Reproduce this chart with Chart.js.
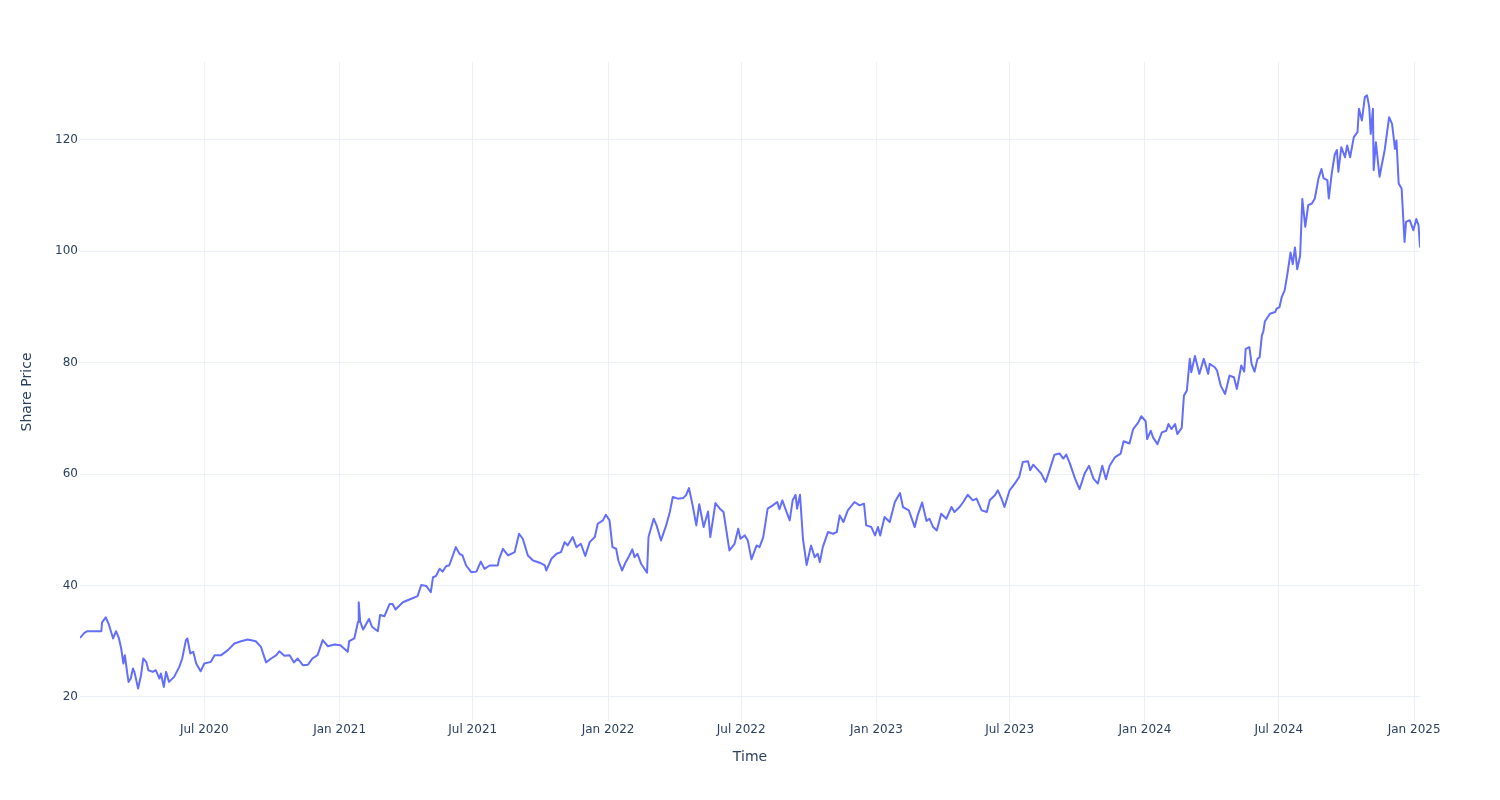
<!DOCTYPE html>
<html>
<head>
<meta charset="utf-8">
<script src="https://cdn.jsdelivr.net/npm/chart.js@4.4.1/dist/chart.umd.min.js"></script>
<style>
  html, body { margin: 0; padding: 0; background: #fff; }
</style>
</head>
<body>
<canvas id="chart" width="1500" height="800"></canvas>
<script>
// closing dates and share prices
const dates = [
  "2020-01-14","2020-01-20","2020-01-24","2020-02-02","2020-02-12","2020-02-13","2020-02-18","2020-02-22","2020-02-28","2020-03-03",
  "2020-03-07","2020-03-10","2020-03-13","2020-03-15","2020-03-18","2020-03-20","2020-03-23","2020-03-26","2020-03-28","2020-04-02",
  "2020-04-06","2020-04-09","2020-04-13","2020-04-16","2020-04-22","2020-04-26","2020-05-01","2020-05-03","2020-05-07","2020-05-10",
  "2020-05-14","2020-05-21","2020-05-28","2020-06-01","2020-06-06","2020-06-08","2020-06-12","2020-06-16","2020-06-20","2020-06-26",
  "2020-07-01","2020-07-10","2020-07-15","2020-07-24","2020-08-02","2020-08-11","2020-08-20","2020-08-29","2020-09-09","2020-09-16",
  "2020-09-23","2020-09-30","2020-10-07","2020-10-11","2020-10-18","2020-10-25","2020-10-31","2020-11-05","2020-11-12","2020-11-19",
  "2020-11-25","2020-12-02","2020-12-09","2020-12-16","2020-12-25","2021-01-02","2021-01-07","2021-01-12","2021-01-14","2021-01-21",
  "2021-01-26","2021-01-27","2021-01-29","2021-02-02","2021-02-10","2021-02-14","2021-02-22","2021-02-25","2021-03-03","2021-03-10",
  "2021-03-14","2021-03-18","2021-03-28","2021-04-06","2021-04-17","2021-04-22","2021-04-29","2021-05-05","2021-05-08","2021-05-12",
  "2021-05-17","2021-05-21","2021-05-26","2021-05-30","2021-06-04","2021-06-08","2021-06-13","2021-06-17","2021-06-22","2021-06-29",
  "2021-07-06","2021-07-12","2021-07-17","2021-07-24","2021-08-04","2021-08-06","2021-08-11","2021-08-18","2021-08-27","2021-09-02",
  "2021-09-07","2021-09-14","2021-09-21","2021-09-30","2021-10-07","2021-10-09","2021-10-16","2021-10-23","2021-10-29","2021-11-03",
  "2021-11-07","2021-11-14","2021-11-19","2021-11-25","2021-12-01","2021-12-07","2021-12-14","2021-12-18","2021-12-25","2021-12-29",
  "2022-01-03","2022-01-07","2022-01-12","2022-01-15","2022-01-20","2022-01-25","2022-01-30","2022-02-03","2022-02-06","2022-02-10",
  "2022-02-15","2022-02-23","2022-02-25","2022-03-04","2022-03-08","2022-03-14","2022-03-21","2022-03-26","2022-03-30","2022-04-06",
  "2022-04-13","2022-04-17","2022-04-21","2022-04-26","2022-05-01","2022-05-05","2022-05-11","2022-05-17","2022-05-20","2022-05-27",
  "2022-06-02","2022-06-07","2022-06-15","2022-06-22","2022-06-27","2022-06-30","2022-07-06","2022-07-10","2022-07-15","2022-07-22",
  "2022-07-26","2022-07-31","2022-08-06","2022-08-13","2022-08-19","2022-08-22","2022-08-26","2022-08-30","2022-09-05","2022-09-09",
  "2022-09-13","2022-09-15","2022-09-19","2022-09-23","2022-09-28","2022-10-04","2022-10-09","2022-10-13","2022-10-16","2022-10-20",
  "2022-10-27","2022-11-03","2022-11-08","2022-11-12","2022-11-17","2022-11-23","2022-12-02","2022-12-09","2022-12-15","2022-12-18",
  "2022-12-25","2022-12-30","2023-01-03","2023-01-06","2023-01-12","2023-01-19","2023-01-26","2023-02-02","2023-02-06","2023-02-14",
  "2023-02-22","2023-02-26","2023-03-04","2023-03-10","2023-03-14","2023-03-19","2023-03-24","2023-03-30","2023-04-06","2023-04-13",
  "2023-04-17","2023-04-24","2023-04-29","2023-05-05","2023-05-12","2023-05-17","2023-05-24","2023-05-31","2023-06-04","2023-06-11",
  "2023-06-15","2023-06-20","2023-06-24","2023-07-01","2023-07-08","2023-07-14","2023-07-19","2023-07-26","2023-07-29","2023-08-02",
  "2023-08-07","2023-08-13","2023-08-19","2023-08-25","2023-08-31","2023-09-07","2023-09-12","2023-09-16","2023-09-21","2023-09-28",
  "2023-10-04","2023-10-11","2023-10-17","2023-10-23","2023-10-29","2023-11-04","2023-11-09","2023-11-14","2023-11-21","2023-11-29",
  "2023-12-03","2023-12-11","2023-12-16","2023-12-23","2023-12-27","2024-01-02","2024-01-04","2024-01-09","2024-01-12","2024-01-18",
  "2024-01-24","2024-01-30","2024-02-02","2024-02-06","2024-02-11","2024-02-14","2024-02-20","2024-02-23","2024-02-27","2024-03-02",
  "2024-03-04","2024-03-09","2024-03-15","2024-03-21","2024-03-27","2024-03-29","2024-04-05","2024-04-08","2024-04-13","2024-04-19",
  "2024-04-25","2024-05-01","2024-05-05","2024-05-11","2024-05-15","2024-05-17","2024-05-22","2024-05-25","2024-05-29","2024-06-02",
  "2024-06-05","2024-06-08","2024-06-10","2024-06-12","2024-06-19","2024-06-26","2024-06-28","2024-07-02","2024-07-05","2024-07-09",
  "2024-07-13","2024-07-17","2024-07-20","2024-07-23","2024-07-26","2024-07-30","2024-08-02","2024-08-06","2024-08-10","2024-08-15",
  "2024-08-19","2024-08-24","2024-08-28","2024-08-31","2024-09-05","2024-09-07","2024-09-11","2024-09-15","2024-09-18","2024-09-20",
  "2024-09-24","2024-09-29","2024-10-02","2024-10-06","2024-10-11","2024-10-16","2024-10-18","2024-10-22","2024-10-26","2024-10-29",
  "2024-11-01","2024-11-03","2024-11-06","2024-11-07","2024-11-10","2024-11-15","2024-11-18","2024-11-22","2024-11-28","2024-12-02",
  "2024-12-06","2024-12-08","2024-12-11","2024-12-15","2024-12-19","2024-12-21","2024-12-26","2024-12-31","2025-01-04","2025-01-07",
  "2025-01-09"
];
const prices = [
  30.6,31.5,31.8,31.8,31.8,33.4,34.3,33.1,30.5,31.8,
  30.5,28.7,26.0,27.5,24.5,22.7,23.3,25.1,24.5,21.5,
  23.9,26.9,26.3,24.8,24.5,24.8,23.3,24.2,21.8,24.5,
  22.7,23.6,25.4,26.9,30.2,30.5,27.8,28.1,26.0,24.6,
  26.0,26.3,27.5,27.5,28.4,29.6,30.0,30.3,30.0,29.0,
  26.2,26.9,27.5,28.2,27.4,27.5,26.2,26.9,25.7,25.8,
  26.9,27.5,30.2,29.1,29.4,29.3,28.7,28.1,30.0,30.5,
  33.5,37.0,33.5,32.1,34.0,32.6,31.8,34.7,34.5,36.7,
  36.7,35.7,37.0,37.5,38.1,40.1,39.9,38.8,41.5,41.7,
  43.0,42.5,43.5,43.6,45.4,46.9,45.7,45.4,43.6,42.4,
  42.5,44.3,43.0,43.6,43.6,44.8,46.6,45.4,46.0,49.3,
  48.4,45.4,44.5,44.1,43.6,42.7,44.8,45.7,46.0,47.8,
  47.2,48.7,46.9,47.5,45.3,47.8,48.7,51.1,51.7,52.7,
  51.7,46.9,46.6,44.5,42.7,44.2,45.4,46.5,45.1,45.7,
  43.9,42.3,48.7,52.0,50.8,48.1,50.8,53.2,55.9,55.6,
  55.7,56.2,57.5,54.4,50.8,54.6,50.5,53.3,48.7,54.8,
  53.8,53.2,46.3,47.5,50.2,48.4,49.0,48.1,44.7,47.2,
  46.9,48.7,53.8,54.4,55.0,53.7,55.3,53.8,51.7,55.3,
  56.3,53.8,56.3,48.4,43.7,47.2,45.1,45.7,44.2,46.9,
  49.6,49.3,49.6,52.6,51.4,53.5,55.0,54.4,54.7,50.8,
  50.5,49.0,50.5,49.0,52.3,51.4,55.0,56.6,54.1,53.5,
  50.5,52.6,54.9,51.6,52.0,50.5,49.9,52.9,52.0,54.1,
  53.2,54.1,55.0,56.3,55.3,55.6,53.5,53.2,55.3,56.2,
  57.1,55.6,54.1,57.1,58.3,59.5,62.2,62.3,60.7,61.7,
  61.0,60.1,58.6,61.0,63.5,63.7,62.8,63.5,61.9,59.2,
  57.3,60.1,61.5,59.2,58.3,61.5,59.1,61.5,63.0,63.7,
  65.9,65.5,68.1,69.3,70.4,69.5,66.3,67.8,66.6,65.4,
  67.5,67.8,69.0,68.1,69.0,67.2,68.3,74.1,75.0,80.7,
  78.3,81.2,78.0,80.7,78.0,79.8,79.2,78.6,75.9,74.4,
  77.7,77.4,75.3,79.5,78.4,82.5,82.8,79.8,78.4,80.7,
  81.0,84.9,85.6,87.4,88.8,89.1,89.7,90.0,91.8,93.0,
  96.2,99.8,97.7,100.7,96.8,99.2,109.4,104.4,108.3,108.6,
  109.5,113.1,114.8,113.1,112.8,109.5,114.0,117.3,118.2,114.3,
  118.7,116.9,119.0,116.9,120.5,121.4,125.6,123.5,127.7,128.0,
  125.9,121.1,125.6,114.6,119.6,113.4,115.5,118.2,124.1,122.9,
  118.4,119.9,112.2,111.3,101.7,105.3,105.6,103.8,105.8,104.7,
  100.7
];
const xTickDates = ["2020-07-01","2021-01-01","2021-07-01","2022-01-01","2022-07-01","2023-01-01","2023-07-01","2024-01-01","2024-07-01","2025-01-01"];
const yTicks = [20, 40, 60, 80, 100, 120];

const monthNames = ["Jan","Feb","Mar","Apr","May","Jun","Jul","Aug","Sep","Oct","Nov","Dec"];
function toMs(s) {
  const p = s.split("-").map(Number);
  return Date.UTC(p[0], p[1] - 1, p[2]);
}
function fmtDate(v) {
  const d = new Date(v);
  return monthNames[d.getUTCMonth()] + " " + d.getUTCFullYear();
}

const points = dates.map((d, i) => ({ x: toMs(d), y: prices[i] }));
const textColor = "#2a3f5f";
const gridColor = "#ebf0f8";

Chart.defaults.font.family = "'DejaVu Sans', sans-serif";

new Chart(document.getElementById("chart"), {
  type: "line",
  data: {
    datasets: [{
      data: points,
      borderColor: "#636efa",
      borderWidth: 2,
      pointRadius: 0,
      fill: false,
      tension: 0,
      borderJoinStyle: "round"
    }]
  },
  options: {
    responsive: false,
    animation: false,
    layout: { padding: { left: 0, right: 80, top: 62, bottom: 0 } },
    plugins: { legend: { display: false }, tooltip: { enabled: false } },
    scales: {
      x: {
        type: "linear",
        min: points[0].x,
        max: points[points.length - 1].x,
        afterBuildTicks: s => { s.ticks = xTickDates.map(d => ({ value: toMs(d) })); },
        afterFit: s => { s.height = 78; },
        grid: { color: gridColor, drawTicks: false },
        border: { display: false },
        ticks: { color: textColor, font: { size: 12 }, padding: 1, maxRotation: 0, autoSkip: false, callback: v => fmtDate(v) },
        title: { display: true, text: "Time", color: textColor, font: { size: 14 }, padding: { top: 0, bottom: 34 } }
      },
      y: {
        min: 15.5,
        max: 134,
        afterBuildTicks: s => { s.ticks = yTicks.map(v => ({ value: v })); },
        afterFit: s => { s.width = 80; },
        grid: { color: gridColor, drawTicks: false },
        border: { display: false },
        ticks: { color: textColor, font: { size: 12 }, padding: 2 },
        title: { display: true, text: "Share Price", color: textColor, font: { size: 14 }, padding: { top: 19, bottom: 0 } }
      }
    }
  }
});
</script>
</body>
</html>
